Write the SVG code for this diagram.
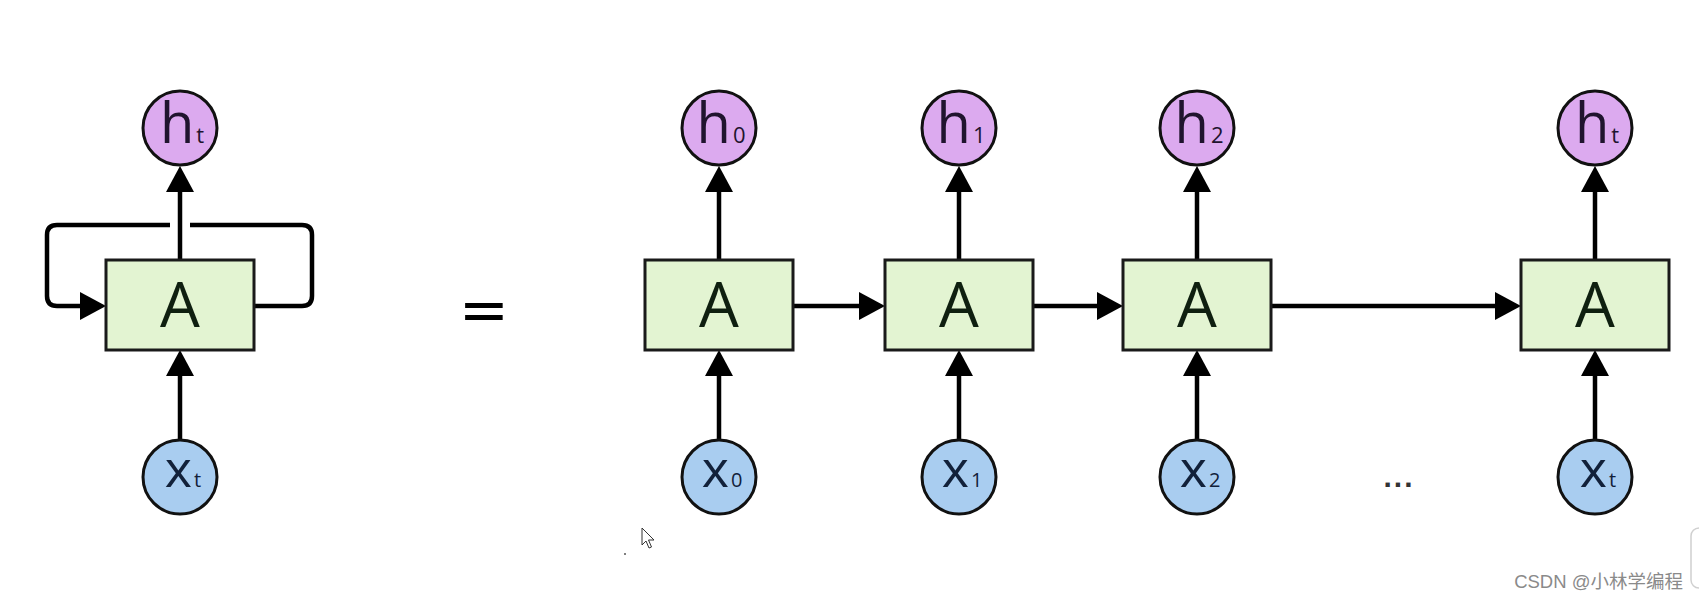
<svg xmlns="http://www.w3.org/2000/svg" width="1699" height="601" viewBox="0 0 1699 601">
<style>
.box{fill:#e3f4d2;stroke:#1a1a1a;stroke-width:3}
.hc{fill:#dcaaef;stroke:#111;stroke-width:3}
.xc{fill:#a9cdf0;stroke:#111;stroke-width:3}
.A{font-family:"Open Sans","DejaVu Sans",sans-serif;font-size:63px;fill:#0f1f10;text-anchor:middle}
.ht{font-family:"Open Sans","DejaVu Sans",sans-serif;font-size:56px;fill:#20142e;text-anchor:middle}
.xt{font-family:"Open Sans","DejaVu Sans",sans-serif;font-size:52px;fill:#12213a;text-anchor:middle}
.sub{font-size:22px}
.xsub{font-size:20px}
.ln{fill:none;stroke:#000;stroke-width:4.5;marker-end:url(#ah)}
.ln2{fill:none;stroke:#000;stroke-width:4.5}
</style>
<defs>
<marker id="ah" markerUnits="userSpaceOnUse" markerWidth="26" markerHeight="28" viewBox="0 0 26 28" refX="0" refY="14" orient="auto">
<path d="M0,0 L26,14 L0,28 z" fill="#000"/>
</marker>
</defs>
<rect width="1699" height="601" fill="#fff"/>

<g id="connectors">
<path class="ln" d="M180,440 V376"/>
<path class="ln" d="M180,260 V192"/>
<path class="ln2" d="M254,306 H302 Q312,306 312,296 V235 Q312,225 302,225 H190"/>
<path class="ln" d="M170,225 H57 Q47,225 47,235 V296 Q47,306 57,306 H80"/>
<path class="ln" d="M719,440 V376"/>
<path class="ln" d="M719,260 V192"/>
<path class="ln" d="M959,440 V376"/>
<path class="ln" d="M959,260 V192"/>
<path class="ln" d="M1197,440 V376"/>
<path class="ln" d="M1197,260 V192"/>
<path class="ln" d="M1595,440 V376"/>
<path class="ln" d="M1595,260 V192"/>
<path class="ln" d="M793,306 H859"/>
<path class="ln" d="M1033,306 H1097"/>
<path class="ln" d="M1271,306 H1495"/>
</g>

<g id="node-A-folded"><rect class="box" x="106" y="260" width="148" height="90"/><text class="A" x="180" y="327">A</text></g>
<g id="node-ht-folded"><circle class="hc" cx="180" cy="128" r="37"/><text class="ht" x="182" y="143">h<tspan class="sub" dx="2">t</tspan></text></g>
<g id="node-xt-folded"><circle class="xc" cx="180" cy="477" r="37"/><text class="xt" x="183" y="487">x<tspan class="xsub" dx="2">t</tspan></text></g>

<g id="equals"><text x="484" y="330" font-family="DejaVu Sans, sans-serif" font-size="60" text-anchor="middle" fill="#000">=</text></g>

<g id="node-A0"><rect class="box" x="645" y="260" width="148" height="90"/><text class="A" x="719" y="327">A</text></g>
<g id="node-h0"><circle class="hc" cx="719" cy="128" r="37"/><text class="ht" x="721" y="143">h<tspan class="sub" dx="2">0</tspan></text></g>
<g id="node-x0"><circle class="xc" cx="719" cy="477" r="37"/><text class="xt" x="722" y="487">x<tspan class="xsub" dx="2">0</tspan></text></g>

<g id="node-A1"><rect class="box" x="885" y="260" width="148" height="90"/><text class="A" x="959" y="327">A</text></g>
<g id="node-h1"><circle class="hc" cx="959" cy="128" r="37"/><text class="ht" x="961" y="143">h<tspan class="sub" dx="2">1</tspan></text></g>
<g id="node-x1"><circle class="xc" cx="959" cy="477" r="37"/><text class="xt" x="962" y="487">x<tspan class="xsub" dx="2">1</tspan></text></g>

<g id="node-A2"><rect class="box" x="1123" y="260" width="148" height="90"/><text class="A" x="1197" y="327">A</text></g>
<g id="node-h2"><circle class="hc" cx="1197" cy="128" r="37"/><text class="ht" x="1199" y="143">h<tspan class="sub" dx="2">2</tspan></text></g>
<g id="node-x2"><circle class="xc" cx="1197" cy="477" r="37"/><text class="xt" x="1200" y="487">x<tspan class="xsub" dx="2">2</tspan></text></g>

<g id="ellipsis"><text x="1399" y="487" font-family="Liberation Sans, sans-serif" font-size="30" font-weight="bold" letter-spacing="2" text-anchor="middle" fill="#333">...</text></g>

<g id="node-At"><rect class="box" x="1521" y="260" width="148" height="90"/><text class="A" x="1595" y="327">A</text></g>
<g id="node-ht"><circle class="hc" cx="1595" cy="128" r="37"/><text class="ht" x="1597" y="143">h<tspan class="sub" dx="2">t</tspan></text></g>
<g id="node-xt"><circle class="xc" cx="1595" cy="477" r="37"/><text class="xt" x="1598" y="487">x<tspan class="xsub" dx="2">t</tspan></text></g>

<path d="M642,528 L642,545 L646,541 L649,548 L651.5,547 L648.5,540 L654,540 Z" fill="#fff" stroke="#333" stroke-width="1"/>
<circle cx="625" cy="554" r="1" fill="#555"/>
<rect x="1691" y="528" width="20" height="60" rx="8" fill="#fff" stroke="#d0d0d0" stroke-width="1.5"/>

<text x="1683" y="588" font-family="Liberation Sans, Noto Sans CJK SC, sans-serif" font-size="18.5" text-anchor="end" fill="#8a8a8a">CSDN @小林学编程</text>
</svg>
